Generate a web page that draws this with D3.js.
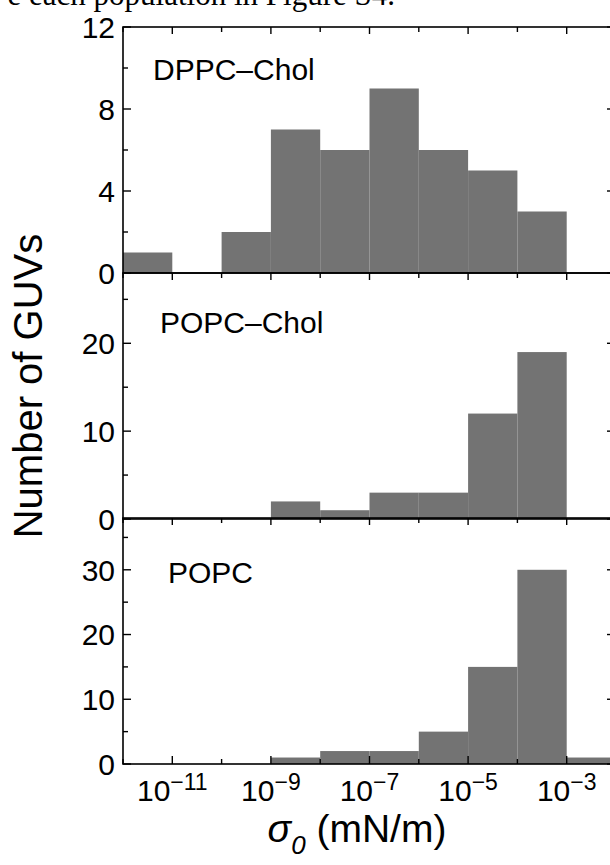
<!DOCTYPE html>
<html>
<head>
<meta charset="utf-8">
<script src="https://cdn.jsdelivr.net/npm/d3@7"></script>
<style>
  body { margin: 0; background: #fff; }
  svg { display: block; }
</style>
</head>
<body>
<svg id="chart"></svg>
<script>
// bin edges are whole decades, 10^-12 ... 10^-2
const binExponents = [-12, -11, -10, -9, -8, -7, -6, -5, -4, -3];
// counts per decade bin
const dppcChol = [1, 0, 2, 7, 6, 9, 6, 5, 3, 0];
const popcChol = [0, 0, 0, 2, 1, 3, 3, 12, 19, 0];
const popc = [0, 0, 0, 1, 2, 2, 5, 15, 30, 1];

const panelNames = ["DPPC\u2013Chol", "POPC\u2013Chol", "POPC"];
const yMax = [12, 28, 38];
const yMajor = [[0, 4, 8, 12], [0, 10, 20], [0, 10, 20, 30]];
const yMinor = [[2, 6, 10], [5, 15, 25], [5, 15, 25, 35]];
const xLabelExponents = [-11, -9, -7, -5, -3];

var width = 610
var height = 865
var left = 123, right = 616
var panelTops = [27, 273, 518]
var panelH = 246
var font = "'Liberation Sans', Arial, Helvetica, sans-serif"

var svg = d3.select("#chart")
  .attr("width", width)
  .attr("height", height)
  .style("font-family", font)

// cut-off line of text from the page above the figure
svg.append("text")
  .attr("x", 395)
  .attr("y", 5)
  .attr("text-anchor", "end")
  .style("font-family", "'Liberation Serif', 'Times New Roman', serif")
  .style("font-size", "31px")
  .text("e each population in Figure S4.")

var x = d3.scaleLog()
  .domain([1e-12, 1e-2])
  .range([left, right])

var allDecades = d3.range(-12, -1)
var series = [dppcChol, popcChol, popc]

series.forEach(function(counts, i) {
  var top = panelTops[i]
  var bottom = top + panelH
  var y = d3.scaleLinear()
    .domain([0, yMax[i]])
    .range([bottom, top])

  var g = svg.append("g")

  // bars
  var bins = binExponents.map(function(e, j) { return { lo: Math.pow(10, e), hi: Math.pow(10, e + 1), n: counts[j] } })
  g.selectAll("rect")
    .data(bins.filter(function(d) { return d.n > 0 }))
    .join("rect")
    .attr("x", function(d) { return x(d.lo) })
    .attr("width", function(d) { return x(d.hi) - x(d.lo) })
    .attr("y", function(d) { return y(d.n) })
    .attr("height", function(d) { return y(0) - y(d.n) })
    .attr("fill", "#737373")

  // frame
  g.append("rect")
    .attr("x", left).attr("y", top)
    .attr("width", right - left).attr("height", panelH)
    .attr("fill", "none")
    .attr("stroke", "#000")
    .attr("stroke-width", 1.6)

  // y ticks left (labelled) and right, pointing inward
  var yTicks = yMajor[i].map(function(v) { return { v: v, len: 8 } })
    .concat(yMinor[i].map(function(v) { return { v: v, len: 5 } }))
  g.selectAll(".ytl")
    .data(yTicks)
    .join("line")
    .attr("x1", left).attr("x2", function(d) { return left + d.len })
    .attr("y1", function(d) { return y(d.v) }).attr("y2", function(d) { return y(d.v) })
    .attr("stroke", "#000").attr("stroke-width", 1.4)
  g.selectAll(".ytr")
    .data(yTicks)
    .join("line")
    .attr("x1", right).attr("x2", function(d) { return right - d.len - 1 })
    .attr("y1", function(d) { return y(d.v) }).attr("y2", function(d) { return y(d.v) })
    .attr("stroke", "#000").attr("stroke-width", 1.4)

  g.selectAll(".ylab")
    .data(yMajor[i])
    .join("text")
    .attr("x", left - 8)
    .attr("y", function(d) { return y(d) })
    .attr("dy", "0.36em")
    .attr("text-anchor", "end")
    .style("font-size", "30px")
    .text(function(d) { return d })

  // x ticks on top of every panel (pointing down)
  g.selectAll(".xt")
    .data(allDecades)
    .join("line")
    .attr("x1", function(d) { return x(Math.pow(10, d)) })
    .attr("x2", function(d) { return x(Math.pow(10, d)) })
    .attr("y1", top)
    .attr("y2", function(d) { return top + (d % 2 !== 0 ? 7 : 5) })
    .attr("stroke", "#000").attr("stroke-width", 1.4)

  if (i === 2) {
    g.selectAll(".xb")
      .data(allDecades)
      .join("line")
      .attr("x1", function(d) { return x(Math.pow(10, d)) })
      .attr("x2", function(d) { return x(Math.pow(10, d)) })
      .attr("y1", bottom)
      .attr("y2", function(d) { return bottom - (d % 2 !== 0 ? 8 : 5) })
      .attr("stroke", "#000").attr("stroke-width", 1.4)
  }

  // panel label
  var labelPos = [[153, 80], [160, 333], [168, 583]]
  g.append("text")
    .attr("x", labelPos[i][0])
    .attr("y", labelPos[i][1])
    .style("font-size", "30px")
    .text(panelNames[i])
})

// x tick labels 10^n under the bottom panel
var xl = svg.selectAll(".xlab")
  .data(xLabelExponents)
  .join("text")
  .attr("x", function(d) { return x(Math.pow(10, d)) })
  .attr("y", 801)
  .attr("text-anchor", "middle")
  .style("font-size", "30px")
xl.append("tspan").text("10")
xl.append("tspan")
  .attr("dy", -11)
  .style("font-size", "23px")
  .text(function(d) { return "\u2212" + Math.abs(d) })

// axis titles
var xt = svg.append("text")
  .attr("x", 357)
  .attr("y", 842)
  .attr("text-anchor", "middle")
  .style("font-size", "39px")
xt.append("tspan").style("font-style", "italic").text("\u03c3")
xt.append("tspan").attr("dy", 12).style("font-style", "italic").style("font-size", "26px").text("0")
xt.append("tspan").attr("dy", -12).text(" (mN/m)")

svg.append("text")
  .attr("transform", "translate(42,386) rotate(-90)")
  .attr("text-anchor", "middle")
  .style("font-size", "40px")
  .text("Number of GUVs")
</script>
</body>
</html>
